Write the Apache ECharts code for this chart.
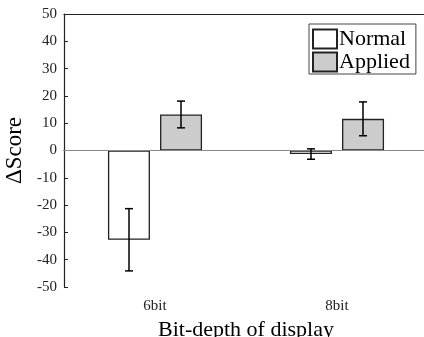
<!DOCTYPE html>
<html>
<head>
<meta charset="utf-8">
<script src="https://cdn.jsdelivr.net/npm/echarts@6/dist/echarts.min.js"></script>
<style>
  html, body { margin: 0; padding: 0; background: #fff; }
  #chart { width: 424px; height: 337px; }
</style>
</head>
<body>
<div id="chart"></div>
<script>
// data
const categories = ['6bit', '8bit']
const normalValues = [-32.7, -1.3]
const normalErrors = [11.4, 1.9]
const appliedValues = [13.2, 11.6]
const appliedErrors = [4.9, 6.2]
const yTicks = [-50, 50, 10]

const font = '"Liberation Serif", "Times New Roman", serif'
const chart = echarts.init(document.getElementById('chart'))

// error bar drawer, offset in px from the category center
const errorSeries = (values, errors, offset) => ({
  type: 'custom',
  silent: true,
  z: 5,
  data: values.map((v, i) => [i, v, errors[i]]),
  renderItem: (params, api) => {
    const c = api.value(1), e = api.value(2)
    const top = api.coord([api.value(0), c + e])
    const bot = api.coord([api.value(0), c - e])
    const x = top[0] + offset
    const cap = 4
    const style = { stroke: '#000', lineWidth: 1.5 }
    return {
      type: 'group',
      children: [
        { type: 'line', shape: { x1: x, y1: top[1], x2: x, y2: bot[1] }, style },
        { type: 'line', shape: { x1: x - cap, y1: top[1], x2: x + cap, y2: top[1] }, style },
        { type: 'line', shape: { x1: x - cap, y1: bot[1], x2: x + cap, y2: bot[1] }, style }
      ]
    }
  }
})

chart.setOption({
  animation: false,
  textStyle: { fontFamily: font },
  grid: { left: 64, top: 14, width: 364, height: 273, outerBoundsMode: 'none', containLabel: false },
  legend: {
    data: ['Normal', 'Applied'],
    orient: 'vertical',
    left: 309,
    top: 24,
    itemWidth: 24,
    itemHeight: 19,
    itemGap: 1,
    padding: [4, 6, 1, 3],
    borderColor: '#444',
    borderWidth: 1,
    backgroundColor: '#fff',
    icon: 'rect',
    textStyle: { fontFamily: font, fontSize: 22, color: '#000', padding: [0, 0, 0, -3] }
  },
  xAxis: [
    {
      type: 'category',
      data: categories,
      position: 'bottom',
      name: 'Bit-depth of display',
      nameLocation: 'middle',
      nameGap: 32,
      nameTextStyle: { fontFamily: font, fontSize: 22, color: '#000' },
      axisLine: { lineStyle: { color: '#222', width: 1.2 } },
      axisTick: { inside: true, length: 4, alignWithLabel: true, lineStyle: { color: '#222' } },
      axisLabel: { fontFamily: font, fontSize: 15, color: '#222', margin: 12 }
    },
    {
      type: 'category',
      data: categories,
      position: 'top',
      axisLine: { lineStyle: { color: '#222', width: 1.2 } },
      axisTick: { inside: true, length: 4, alignWithLabel: true, lineStyle: { color: '#222' } },
      axisLabel: { show: false }
    }
  ],
  yAxis: {
    type: 'value',
    min: yTicks[0],
    max: yTicks[1],
    interval: yTicks[2],
    name: 'ΔScore',
    nameLocation: 'middle',
    nameGap: 31,
    nameTextStyle: { fontFamily: font, fontSize: 23, color: '#000' },
    axisLine: { show: true, lineStyle: { color: '#222', width: 1.2 } },
    axisTick: { show: true, inside: true, length: 4, lineStyle: { color: '#222' } },
    axisLabel: { fontFamily: font, fontSize: 15, color: '#222', margin: 7 },
    splitLine: { show: false }
  },
  series: [
    {
      name: 'Normal',
      type: 'bar',
      data: normalValues,
      barWidth: 42,
      barGap: '24%',
      itemStyle: { color: '#fff', borderColor: '#222', borderWidth: 1.3 },
      markLine: {
        silent: true,
        symbol: 'none',
        label: { show: false },
        lineStyle: { color: '#888', type: 'solid', width: 1.2 },
        data: [{ yAxis: 0 }]
      },
      z: 2
    },
    {
      name: 'Applied',
      type: 'bar',
      data: appliedValues,
      barWidth: 42,
      itemStyle: { color: '#cccccc', borderColor: '#222', borderWidth: 1.3 },
      z: 2
    },
    errorSeries(normalValues, normalErrors, -26),
    errorSeries(appliedValues, appliedErrors, 26)
  ]
})
</script>
</body>
</html>
